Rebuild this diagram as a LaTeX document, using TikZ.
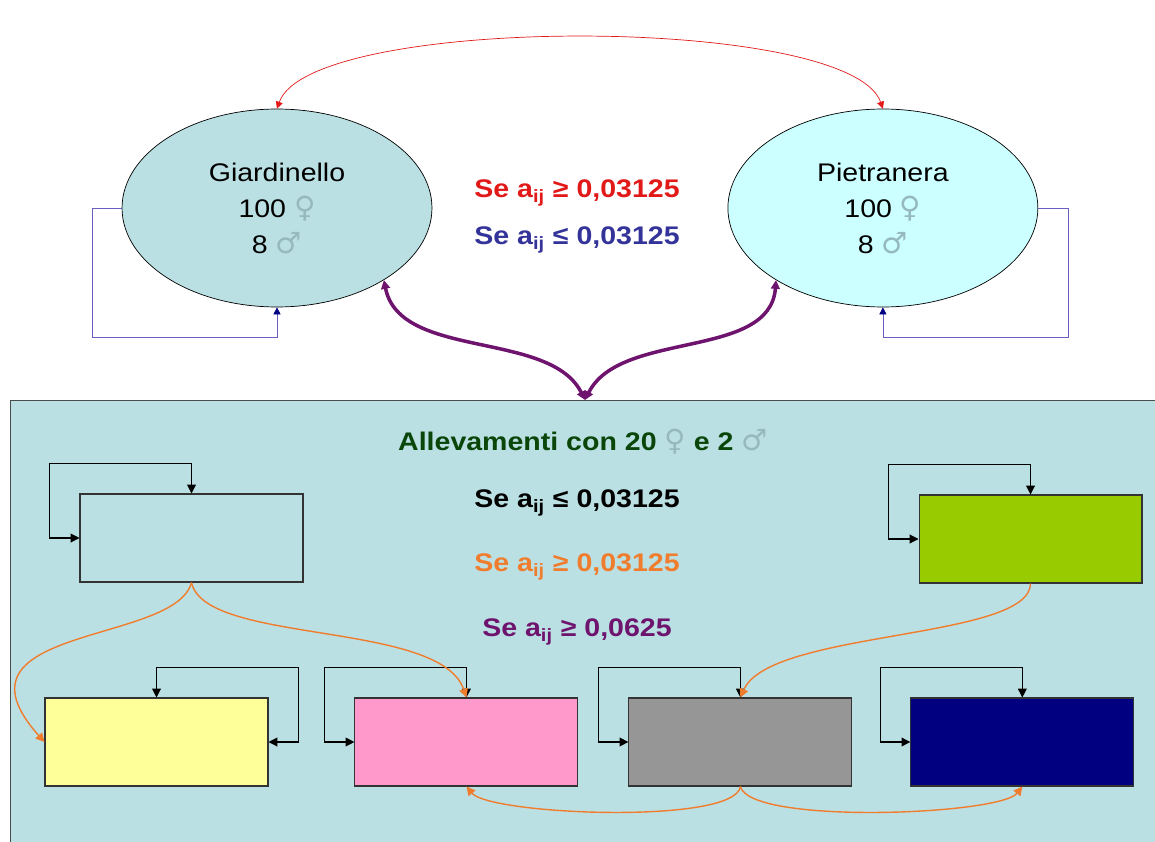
\documentclass[tikz,border=0pt]{standalone}
\usepackage{fontspec}
\setmainfont{Liberation Sans}[FakeStretch=1.12]
\newfontfamily\symfont{DejaVu Sans}[Scale=1.15]
\usetikzlibrary{arrows.meta,positioning,shapes.geometric}
\definecolor{boxteal}{RGB}{187,224,227}
\definecolor{paleaqua}{RGB}{204,255,255}
\definecolor{symgray}{RGB}{150,185,190}
\definecolor{serred}{RGB}{225,25,25}
\definecolor{serblue}{RGB}{51,51,153}
\definecolor{loopblue}{RGB}{105,95,195}
\definecolor{titlegreen}{RGB}{10,70,10}
\definecolor{arrorange}{RGB}{240,125,45}
\definecolor{plum}{RGB}{110,20,110}
\definecolor{limebox}{RGB}{153,204,0}
\definecolor{yellowbox}{RGB}{255,255,153}
\definecolor{rosebox}{RGB}{255,153,204}
\definecolor{greybox}{RGB}{150,150,150}
\definecolor{navybox}{RGB}{0,0,128}
\newcommand{\fem}{\textcolor{symgray}{\symfont\mdseries ♀}}
\newcommand{\mas}{\textcolor{symgray}{\symfont\mdseries ♂}}
\newcommand{\aij}{a\textsubscript{ij}}

\begin{document}
\begin{tikzpicture}[x=0.02cm,y=-0.02cm,on grid,>={Triangle[length=5pt,width=5pt]},
    every node/.style={font=\fontsize{14.5}{20.5}\selectfont},
    farm/.style={ellipse,draw,thin,minimum width=6.2cm,minimum height=3.96cm,align=center},
    pen/.style={rectangle,draw=black!80,semithick,minimum width=4.46cm,minimum height=1.76cm},
    cond/.style={font=\fontsize{14.5}{18}\selectfont\bfseries},
    fb/.style={<->,semithick},
    selfloop/.style={-{Triangle[length=4pt,width=4pt,color=navybox]},loopblue,thin},
    link/.style={<->,plum,line width=2pt},
    move/.style={->,arrorange,thick}]
  \useasboundingbox (0,0) rectangle (1155,841);
  \draw[draw=black!70,fill=boxteal] (10,400) rectangle (1175,860);

  \node[farm,fill=boxteal] (gl) at (277,208) {Giardinello\\100 \fem\\8 \mas};
  \node[farm,fill=paleaqua,right=12.12cm of gl] (pn) {Pietranera\\100 \fem\\8 \mas};
  \node[cond,text=serred] (up) at (577,193) {Se \aij{} ≥ 0,03125};
  \node[cond,text=serblue,below=0.94cm of up] (down) {Se \aij{} ≤ 0,03125};

  \draw[serred,{Triangle[length=4pt,width=4pt]}-{Triangle[length=4pt,width=4pt]}]
    (gl.north) .. controls (310,14) and (850,14) .. (pn.north);
  \draw[selfloop] (gl.west) -| ++(-29,129) -| (gl.south);
  \draw[selfloop] (pn.east) -| ++(30,129) -| (pn.south);

  \coordinate (hub) at (585,400);
  \draw[link] (gl.-34) .. controls (400,360) and (550,330) .. (hub);
  \draw[link] (pn.-146) .. controls (770,360) and (620,330) .. (hub);

  \node[cond,text=titlegreen] (title) at (583,442) {Allevamenti con 20 \fem{} e 2 \mas};
  \node[cond] (c1) at (577,503) {Se \aij{} ≤ 0,03125};
  \node[cond,text=arrorange,below=1.28cm of c1] (c2) {Se \aij{} ≥ 0,03125};
  \node[cond,text=plum,below=1.3cm of c2] (c3) {Se \aij{} ≥ 0,0625};

  \node[pen] (tl) at (191.5,538) {};
  \node[pen,fill=limebox] (gn) at (1030.5,539) {};
  \node[pen,fill=yellowbox] (yl) at (156.5,742) {};
  \node[pen,fill=rosebox,right=6.2cm of yl] (pk) {};
  \node[pen,fill=greybox,right=5.48cm of pk] (gr) {};
  \node[pen,fill=navybox,right=5.64cm of gr] (nv) {};

  \foreach \n in {tl,gn,pk,gr,nv}
    \draw[fb] (\n.north) |- ++(-142,-30) |- (\n.west);
  \draw[fb] (yl.north) |- ++(142,-30) |- (yl.east);

  \draw[move] (tl.south) .. controls (175,645) and (-60,625) .. (yl.west);
  \draw[move] (tl.south) .. controls (205,645) and (440,620) .. (pk.north);
  \draw[move] (gn.south) .. controls (1030,640) and (770,630) .. (gr.north);
  \draw[move] (gr.south) .. controls (735,825) and (490,815) .. (pk.south);
  \draw[move] (gr.south) .. controls (750,825) and (1000,815) .. (nv.south);
\end{tikzpicture}
\end{document}
